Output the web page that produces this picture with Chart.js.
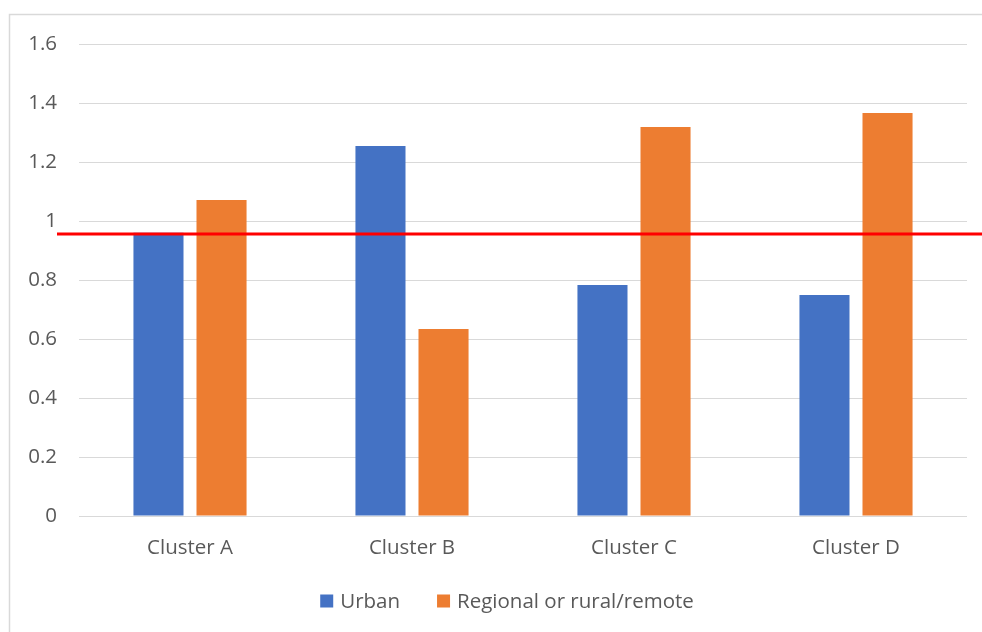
<!DOCTYPE html>
<html>
<head>
<meta charset="utf-8">
<script src="https://cdn.jsdelivr.net/npm/chart.js@4/dist/chart.umd.min.js"></script>
<style>
  html, body { margin: 0; padding: 0; background: #fff; }
  #wrap { width: 982px; height: 632px; }
</style>
</head>
<body>
<div id="wrap"><canvas id="grafik" width="982" height="632"></canvas></div>
<script>
// Veriler
const kumeler = ['Cluster A', 'Cluster B', 'Cluster C', 'Cluster D'];
const kentsel = [0.96, 1.254, 0.783, 0.749];
const kirsal = [1.071, 0.634, 1.319, 1.366];
const esikDegeri = 0.956;
const yEtiketleri = [0, 0.2, 0.4, 0.6, 0.8, 1, 1.2, 1.4, 1.6];

const yaziTipi = "'Open Sans', 'DejaVu Sans', sans-serif";
const yaziBoyu = 20.5;
const yaziRengi = '#595959';

// Grafik çerçevesi (sağ ve alt kenar tuvalin dışına taşıyor)
const cerceve = {
    id: 'cerceve',
    beforeDraw(chart) {
        const ctx = chart.ctx;
        ctx.save();
        ctx.fillStyle = '#fff';
        ctx.fillRect(0, 0, chart.width, chart.height);
        ctx.strokeStyle = '#d9d9d9';
        ctx.lineWidth = 1.5;
        ctx.strokeRect(9.5, 14.5, chart.width + 20, chart.height + 20);
        ctx.restore();
    }
};

// Kırmızı eşik çizgisi
const esikCizgisi = {
    id: 'esikCizgisi',
    afterDatasetsDraw(chart) {
        const ctx = chart.ctx;
        const y = chart.scales.y.getPixelForValue(esikDegeri);
        ctx.save();
        ctx.strokeStyle = '#ff0000';
        ctx.lineWidth = 3;
        ctx.beginPath();
        ctx.moveTo(57, y);
        ctx.lineTo(chart.width, y);
        ctx.stroke();
        ctx.restore();
    }
};

// Alt kısımdaki açıklama (legend) - kutu + yazı, ortalanmış
const aciklama = {
    id: 'aciklama',
    afterDraw(chart) {
        const ctx = chart.ctx;
        const kutu = 13, bosluk = 7, araMesafe = 37;
        const merkezX = 507, merkezY = 601;
        ctx.save();
        ctx.font = `${yaziBoyu}px ${yaziTipi}`;
        ctx.textBaseline = 'middle';
        const ogeler = chart.data.datasets.map(ds => ({
            renk: ds.backgroundColor,
            yazi: ds.label,
            genislik: kutu + bosluk + ctx.measureText(ds.label).width
        }));
        const toplam = ogeler.reduce((t, o) => t + o.genislik, 0) + araMesafe * (ogeler.length - 1);
        let x = merkezX - toplam / 2;
        ogeler.forEach(o => {
            ctx.fillStyle = o.renk;
            ctx.fillRect(x, merkezY - kutu / 2, kutu, kutu);
            ctx.fillStyle = yaziRengi;
            ctx.fillText(o.yazi, x + kutu + bosluk, merkezY + 1);
            x += o.genislik + araMesafe;
        });
        ctx.restore();
    }
};

new Chart(document.getElementById('grafik'), {
    type: 'bar',
    data: {
        labels: kumeler,
        datasets: [
            { label: 'Urban', data: kentsel, backgroundColor: '#4472c4' },
            { label: 'Regional or rural/remote', data: kirsal, backgroundColor: '#ed7d31' }
        ]
    },
    options: {
        responsive: false,
        animation: false,
        categoryPercentage: 0.568,
        barPercentage: 0.794,
        layout: { padding: { left: 0, right: 15, top: 44, bottom: 76 } },
        plugins: {
            legend: { display: false },
            tooltip: { enabled: false }
        },
        scales: {
            x: {
                grid: { display: false },
                border: { display: false },
                ticks: { color: yaziRengi, padding: 12, font: { family: yaziTipi, size: yaziBoyu } },
                afterFit(scale) { scale.height = 40; }
            },
            y: {
                min: 0,
                max: 1.6,
                afterBuildTicks(scale) { scale.ticks = yEtiketleri.map(v => ({ value: v })); },
                grid: { color: '#d9d9d9', drawTicks: false },
                border: { display: false },
                ticks: {
                    color: yaziRengi,
                    padding: 22,
                    font: { family: yaziTipi, size: yaziBoyu },
                    callback: v => String(Math.round(v * 10) / 10)
                },
                afterFit(scale) { scale.width = 79; }
            }
        }
    },
    plugins: [cerceve, esikCizgisi, aciklama]
});
</script>
</body>
</html>
